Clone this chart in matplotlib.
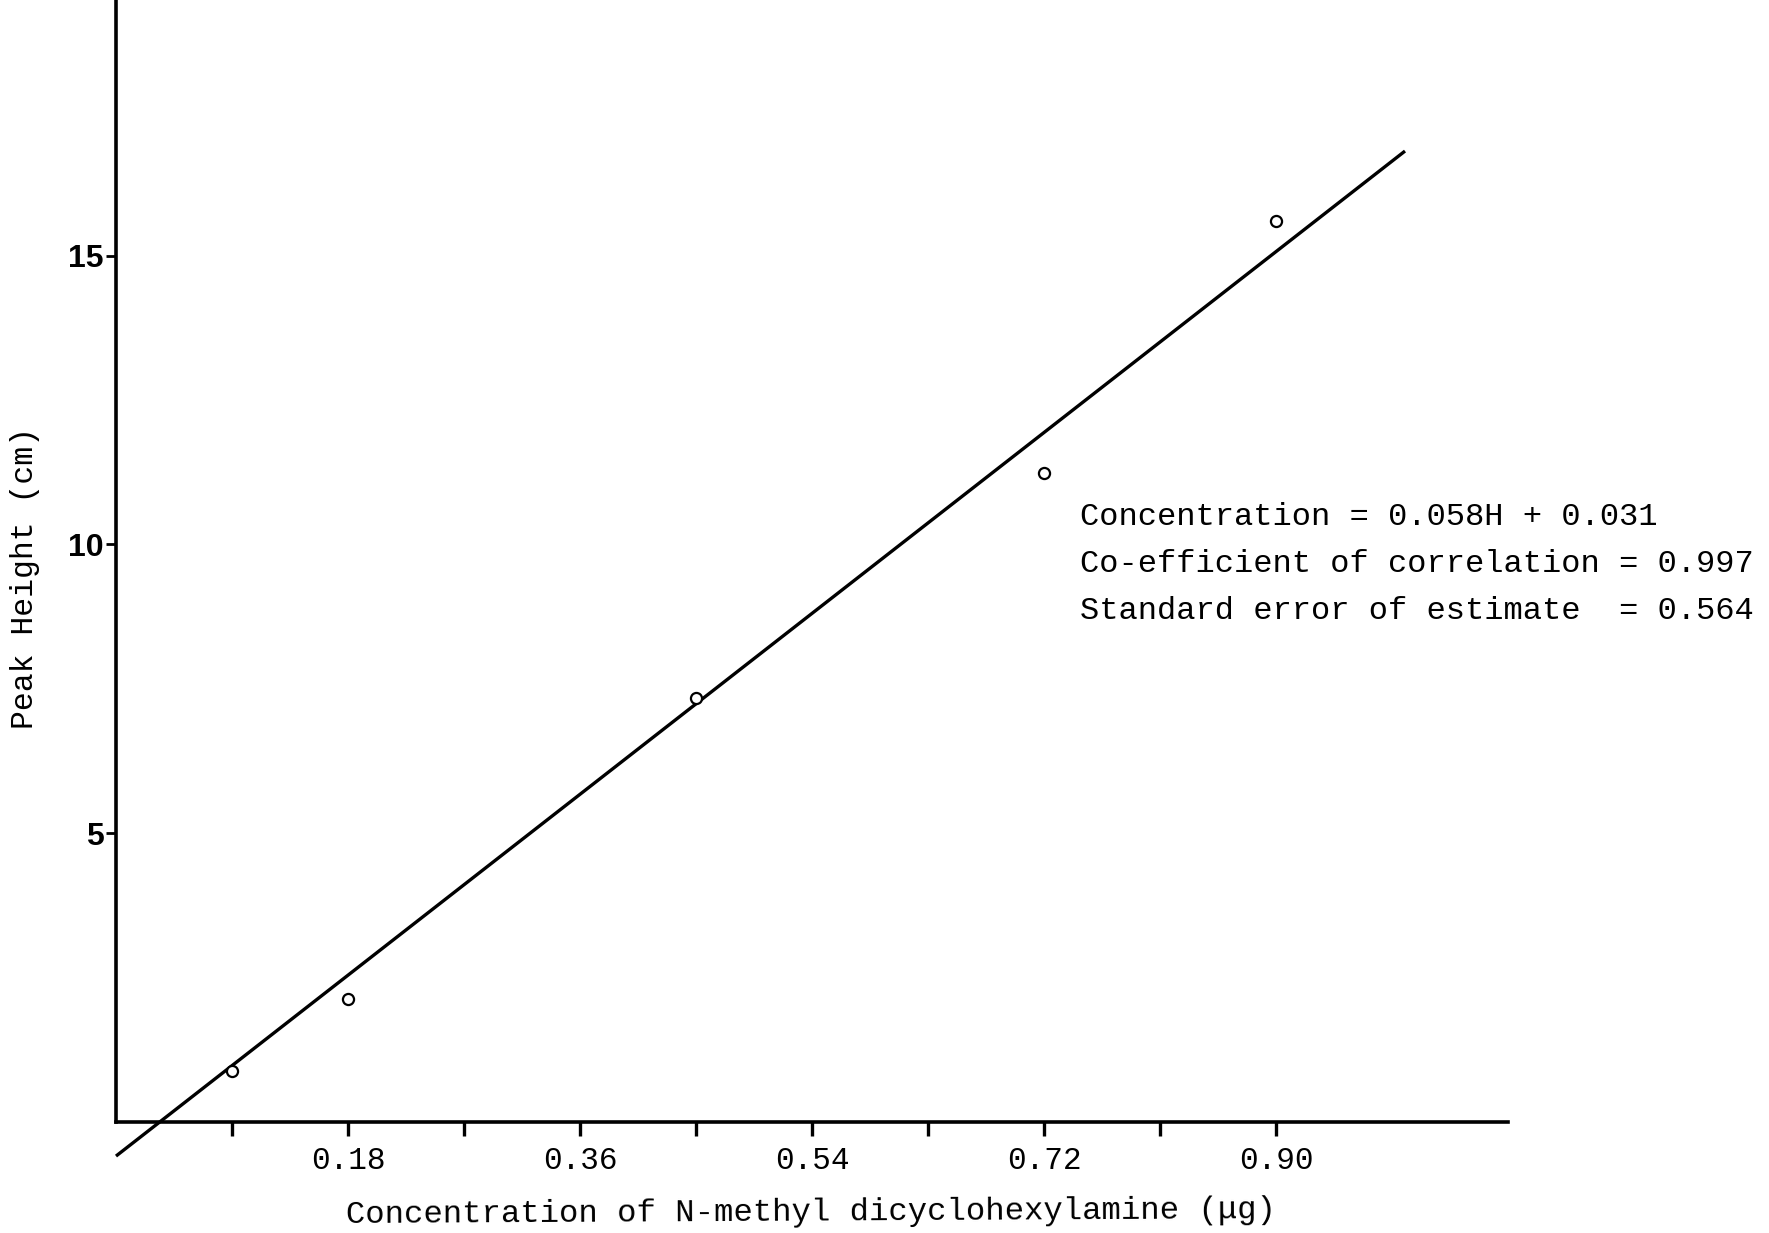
import matplotlib
matplotlib.use("Agg")
import matplotlib.pyplot as plt
from matplotlib.ticker import FixedLocator, FixedFormatter

# Data
conc = [0.09, 0.18, 0.45, 0.72, 0.90]
peak = [0.88, 2.13, 7.34, 11.23, 15.6]

# Fitted calibration line (as drawn): endpoints
fit_x = [0.0, 1.0]
fit_y = [-0.59, 16.81]

xtick_major = [0.18, 0.36, 0.54, 0.72, 0.90]
xtick_labels = ["0.18", "0.36", "0.54", "0.72", "0.90"]
xtick_minor = [0.09, 0.27, 0.45, 0.63, 0.81]
ytick_major = [5, 10, 15]
ytick_labels = ["5", "10", "15"]

annot_lines = [
    "Concentration = 0.058H + 0.031",
    "Co-efficient of correlation = 0.997",
    "Standard error of estimate  = 0.564",
]
xlabel = "Concentration of N-methyl dicyclohexylamine (\u03bcg)"
ylabel = "Peak Height (cm)"

mono = "Liberation Mono"
W, H = 1769, 1233
fig = plt.figure(figsize=(W / 100, H / 100), dpi=100)

left_px, right_px = 116, 116 + 1.08 * 1289
y0_px = 1122
ppu = 57.76
ylo, yhi = -0.6, 19.4
bot_px = y0_px + (-ylo) * ppu
top_px = y0_px - yhi * ppu
ax = fig.add_axes([left_px / W, 1 - bot_px / H, (right_px - left_px) / W, (bot_px - top_px) / H])
ax.set_xlim(0, 1.08)
ax.set_ylim(ylo, yhi)

for s in ["top", "right"]:
    ax.spines[s].set_visible(False)
ax.spines["left"].set_position(("data", 0))
ax.spines["bottom"].set_position(("data", 0))
ax.spines["left"].set_bounds(0, yhi)
ax.spines["left"].set_linewidth(2.6)
ax.spines["bottom"].set_linewidth(2.6)

ax.plot(fit_x, fit_y, color="black", lw=2.4, clip_on=False, solid_capstyle="butt")
ax.plot(conc, peak, linestyle="none", marker="o", markersize=8,
        markerfacecolor="white", markeredgecolor="black", markeredgewidth=1.6, zorder=3)

ax.xaxis.set_major_locator(FixedLocator(xtick_major))
ax.xaxis.set_major_formatter(FixedFormatter(xtick_labels))
ax.xaxis.set_minor_locator(FixedLocator(xtick_minor))
ax.tick_params(axis="x", which="both", direction="out", length=10, width=2.4, pad=7)
ax.tick_params(axis="x", which="major", labelsize=22.4)
for lab in ax.get_xticklabels():
    lab.set_fontfamily(mono)

ax.yaxis.set_major_locator(FixedLocator(ytick_major))
ax.yaxis.set_major_formatter(FixedFormatter(ytick_labels))
ax.tick_params(axis="y", which="major", direction="out", length=7, width=2, pad=2, labelsize=23)
for lab in ax.get_yticklabels():
    lab.set_fontfamily("Liberation Sans")
    lab.set_fontweight("bold")

fig.text(811 / W, 1 - 1213 / H, xlabel, family=mono, fontsize=23.2, ha="center", va="center", rotation=0.3)
fig.text(25 / W, 1 - 578 / H, ylabel, family=mono, fontsize=22.7, ha="center", va="center", rotation=90)

ys = [517, 564, 611]
for t, yp in zip(annot_lines, ys):
    fig.text(1080 / W, 1 - yp / H, t, family=mono, fontsize=23.15, ha="left", va="center")

fig.savefig("out.png", dpi=100, facecolor="white")
